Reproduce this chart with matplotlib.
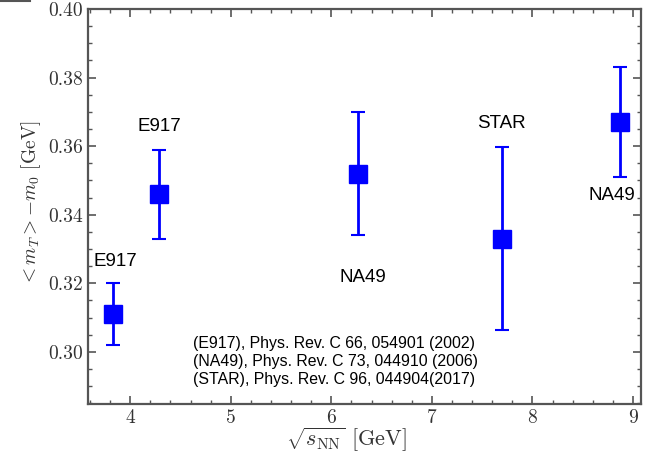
import matplotlib
matplotlib.use("Agg")
import matplotlib.pyplot as plt
from matplotlib.ticker import MultipleLocator, FormatStrFormatter
from matplotlib.lines import Line2D

plt.rcParams['mathtext.fontset'] = 'cm'
plt.rcParams['font.family'] = 'serif'
plt.rcParams['font.serif'] = ['cmr10', 'DejaVu Serif']
plt.rcParams['axes.formatter.use_mathtext'] = True

# mean transverse mass vs collision energy
sqrt_s = [3.83, 4.29, 6.27, 7.70, 8.87]
mt_m0 = [0.311, 0.346, 0.352, 0.333, 0.367]
err_lo = [0.009, 0.013, 0.018, 0.0267, 0.016]
err_hi = [0.009, 0.013, 0.018, 0.0267, 0.016]

# experiment labels and where they sit
exp_names = ["E917", "E917", "NA49", "STAR", "NA49"]
label_x = [3.85, 4.29, 6.31, 7.69, 8.79]
label_y = [0.3263, 0.3657, 0.3218, 0.3665, 0.3456]

refs = ["(E917), Phys. Rev. C 66, 054901 (2002)",
        "(NA49), Phys. Rev. C 73, 044910 (2006)",
        "(STAR), Phys. Rev. C 96, 044904(2017)"]

grey = "#555555"

fig = plt.figure(figsize=(6.45, 4.54), dpi=100)
ax = fig.add_axes([88 / 645, 50 / 454, 553 / 645, 395 / 454])

ax.errorbar(sqrt_s, mt_m0, yerr=[err_lo, err_hi], fmt='s', color='blue',
            markersize=13, elinewidth=2, capsize=5, capthick=1.5)

for name, x, y in zip(exp_names, label_x, label_y):
    ax.text(x, y, name, ha='center', va='center', fontsize=13.5,
            family='Liberation Sans')

ax.text(4.62, 0.2972, "\n".join(refs), ha='left', va='center', fontsize=11.4,
        family='Liberation Sans', linespacing=1.22)

ax.set_xlim(3.58, 9.08)
ax.set_ylim(0.2848, 0.40)
ax.xaxis.set_major_locator(MultipleLocator(1))
ax.xaxis.set_minor_locator(MultipleLocator(0.2))
ax.yaxis.set_major_locator(MultipleLocator(0.02))
ax.yaxis.set_minor_locator(MultipleLocator(0.005))
ax.yaxis.set_major_formatter(FormatStrFormatter('%.2f'))
ax.xaxis.set_major_formatter(FormatStrFormatter('%d'))

ax.tick_params(which='both', direction='in', top=True, right=True,
               color=grey, labelcolor='#333333', labelsize=14)
ax.tick_params(which='major', length=6, width=1.2)
ax.tick_params(which='minor', length=3, width=1)
for sp in ax.spines.values():
    sp.set_color(grey)
    sp.set_linewidth(1.6)

ax.set_xlabel(r"$\sqrt{s_{\rm NN}}$ [GeV]", fontsize=16, labelpad=-1,
              color='#333333')
ax.set_ylabel(r"$< m_T > - m_0$ [GeV]", fontsize=14, labelpad=4,
              color='#333333')
ax.xaxis.label.set_x(0.468)
ax.yaxis.label.set_y(0.509)

# stray frame edge in the upper left corner
fig.add_artist(Line2D([0, 30 / 645], [1 - 1 / 454, 1 - 1 / 454],
                      transform=fig.transFigure, color=grey, lw=1.5))

fig.savefig("out.png", dpi=100)
